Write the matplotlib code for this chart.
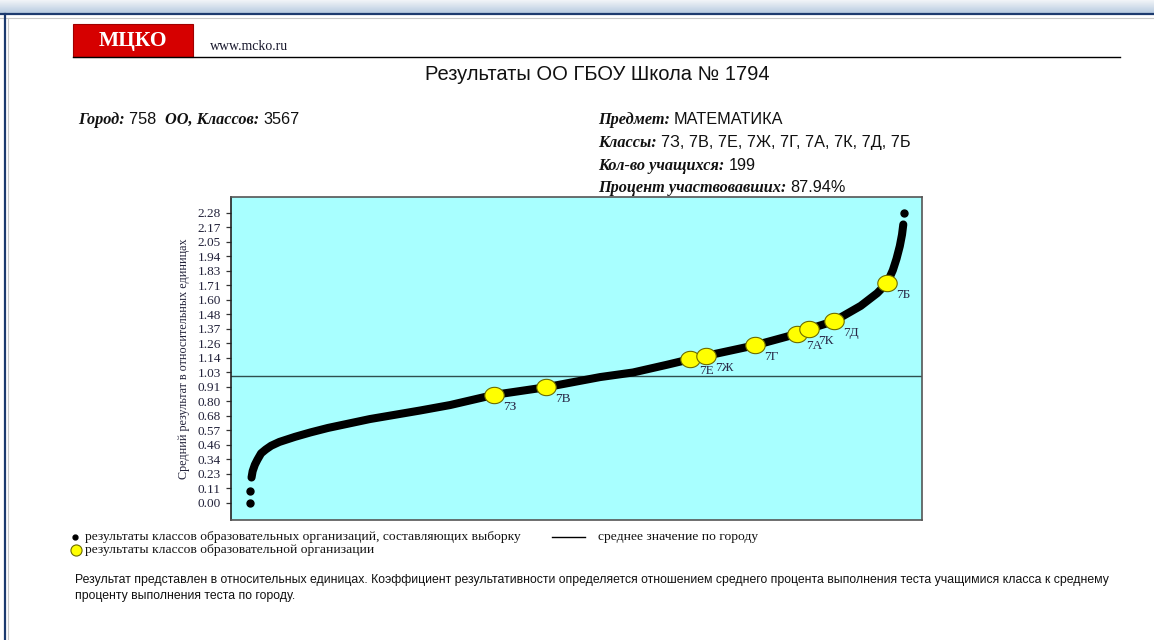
import numpy as np
import matplotlib
matplotlib.use("Agg")
import matplotlib.pyplot as plt
from matplotlib.patches import Rectangle
from matplotlib.lines import Line2D
from matplotlib.path import Path

# ---------------- data ----------------
city_ranks = [8, 14, 26, 40, 60, 85, 115, 160, 245, 330, 425, 654, 927, 1091, 1330,
              1614, 1909, 2088, 2274, 2399, 2487, 2754, 2983, 3052, 3185, 3330, 3420,
              3474, 3505, 3525, 3543, 3555, 3562]
city_values = [0.20, 0.25, 0.30, 0.34, 0.39, 0.42, 0.45, 0.48, 0.52, 0.555, 0.59, 0.66,
               0.727, 0.77, 0.85, 0.91, 0.99, 1.026, 1.087, 1.13, 1.157, 1.24, 1.33,
               1.37, 1.43, 1.55, 1.65, 1.73, 1.83, 1.92, 2.02, 2.11, 2.19]
outlier_ranks = [0, 2, 3566]
outlier_values = [0.0, 0.097, 2.283]

school_classes = ["7З", "7В", "7Е", "7Ж", "7Г", "7А", "7К", "7Д", "7Б"]
school_ranks = [1330, 1614, 2399, 2487, 2754, 2983, 3048, 3185, 3474]
school_values = [0.85, 0.91, 1.13, 1.157, 1.24, 1.33, 1.37, 1.43, 1.73]

city_mean = 1.0
ytick_labels = ["0.00", "0.11", "0.23", "0.34", "0.46", "0.57", "0.68", "0.80", "0.91",
                "1.03", "1.14", "1.26", "1.37", "1.48", "1.60", "1.71", "1.83", "1.94",
                "2.05", "2.17", "2.28"]
ytick_step = 0.11415

W, H = 1154, 640
SERIF = "Liberation Serif"
SANS = "Liberation Sans"

fig = plt.figure(figsize=(W / 100, H / 100), dpi=100)
fig.patch.set_facecolor("white")


def fx(px):
    return px / W


def fy(py):
    return 1 - py / H


# ellipse marker (slightly wider than tall)
_t = np.linspace(0, 2 * np.pi, 60)
ELLIPSE = Path(np.column_stack([np.cos(_t), 0.84 * np.sin(_t)]), closed=True)

# ---------------- page frame ----------------
grad = fig.add_axes([0, fy(13), 1, 13 / H])
grad.imshow(np.linspace(0, 1, 50).reshape(-1, 1), aspect="auto",
            cmap=matplotlib.colors.LinearSegmentedColormap.from_list("g", ["#f2f5f8", "#b8cbe0"]),
            extent=[0, 1, 0, 1])
grad.set_axis_off()
fig.add_artist(Line2D([0, 1], [fy(14), fy(14)], color="#1c3a6e", lw=1.6, transform=fig.transFigure))
fig.add_artist(Line2D([0, 1], [fy(18), fy(18)], color="#c8c8c8", lw=0.8, transform=fig.transFigure))
fig.add_artist(Line2D([fx(5), fx(5)], [0, fy(14)], color="#1c3a6e", lw=1.6, transform=fig.transFigure))
fig.add_artist(Line2D([fx(8), fx(8)], [0, fy(18)], color="#c8c8c8", lw=0.8, transform=fig.transFigure))

# ---------------- header ----------------
fig.add_artist(Rectangle((fx(73), fy(57)), fx(193) - fx(73), fy(24) - fy(57),
                         facecolor="#d60000", edgecolor="#a00000", lw=0.8, transform=fig.transFigure))
fig.text(fx(133), fy(41), "МЦКО", color="white", fontsize=15.5, fontweight="bold",
         family=SERIF, ha="center", va="center")
fig.text(fx(210), fy(47), "www.mcko.ru", fontsize=10, family=SERIF, ha="left", va="center", color="#1a1a2e")
fig.add_artist(Line2D([fx(73), fx(1120)], [fy(57), fy(57)], color="black", lw=1.0, transform=fig.transFigure))

fig.text(fx(597), fy(74), "Результаты ОО ГБОУ Школа № 1794", fontsize=14.5, family=SANS,
         ha="center", va="center", color="#111111")

renderer = fig.canvas.get_renderer()


def rich(x_px, y_px, parts, size=11.7):
    x = fx(x_px)
    for txt, style in parts:
        if style == "label":
            t = fig.text(x, fy(y_px), txt, fontsize=size, family=SERIF, fontweight="bold",
                         fontstyle="italic", ha="left", va="center", color="#111111")
        else:
            t = fig.text(x, fy(y_px), txt, fontsize=size, family=SANS,
                         ha="left", va="center", color="#111111")
        bb = t.get_window_extent(renderer)
        x += bb.width / W


rich(78, 120, [("Город: ", "label"), ("758  ", "v"), ("ОО, Классов: ", "label"), ("3567", "v")])
rich(598, 120, [("Предмет: ", "label"), ("МАТЕМАТИКА", "v")])
rich(598, 143, [("Классы: ", "label"), (", ".join(school_classes), "v")])
rich(598, 166, [("Кол-во учащихся: ", "label"), ("199", "v")])
rich(598, 188, [("Процент участвовавших: ", "label"), ("87.94%", "v")])

# ---------------- chart ----------------
ax = fig.add_axes([fx(231), fy(520), (922 - 231) / W, (520 - 197) / H])
ax.set_facecolor("#a8ffff")
ax.set_xlim(-104, 3664)
ax.set_ylim(-0.134, 2.406)

ax.axhline(city_mean, color="#2f4f4f", lw=1.0, zorder=2)
ax.plot(city_ranks, city_values, color="black", lw=5.8, solid_capstyle="round",
        solid_joinstyle="round", zorder=3)
ax.plot(outlier_ranks, outlier_values, "o", color="black", ms=5, zorder=3)
ax.plot(school_ranks, school_values, linestyle="none", marker=ELLIPSE, ms=14,
        markerfacecolor="#ffff00", markeredgecolor="#6b6b00", markeredgewidth=0.8, zorder=4)
for name, r, v in zip(school_classes, school_ranks, school_values):
    ax.annotate(name, (r, v), xytext=(6.5, -4.3), textcoords="offset points",
                ha="left", va="top", fontsize=9.5, family=SERIF, color="#2a2a48", zorder=5)

yt = np.arange(len(ytick_labels)) * ytick_step
ax.set_yticks(yt)
ax.set_yticklabels(ytick_labels, family=SERIF, fontsize=9.5, color="#22223a")
ax.set_xticks([])
ax.tick_params(axis="y", direction="out", length=3.8, width=0.9, color="#333333", pad=3.5)
for s in ax.spines.values():
    s.set_color("#555555")
    s.set_linewidth(1.2)
ax.spines["left"].set_color("#222222")
ax.set_ylabel("Средний результат в относительных единицах", family=SERIF, fontsize=8.7,
              color="#22223a", labelpad=5)

# ---------------- legend ----------------
LEG = 9.7
fig.add_artist(Line2D([fx(75)], [fy(537)], marker="o", ms=3.5, color="black", transform=fig.transFigure))
fig.text(fx(85), fy(537), "результаты классов образовательных организаций, составляющих выборку",
         fontsize=LEG, family=SERIF, ha="left", va="center", color="#111111")
fig.add_artist(Line2D([fx(552), fx(585)], [fy(537), fy(537)], color="black", lw=1.0, transform=fig.transFigure))
fig.text(fx(598), fy(537), "среднее значение по городу",
         fontsize=LEG, family=SERIF, ha="left", va="center", color="#111111")
fig.add_artist(Line2D([fx(76)], [fy(550)], marker="o", ms=8, markerfacecolor="#ffff00",
                      markeredgecolor="#6b6b00", markeredgewidth=0.8, transform=fig.transFigure))
fig.text(fx(85), fy(550), "результаты классов образовательной организации",
         fontsize=LEG, family=SERIF, ha="left", va="center", color="#111111")

fig.text(fx(75), fy(580), "Результат представлен в относительных единицах. Коэффициент результативности "
         "определяется отношением среднего процента выполнения теста учащимися класса к среднему",
         fontsize=8.85, family=SANS, ha="left", va="center", color="#111111")
fig.text(fx(75), fy(596), "проценту выполнения теста по городу.",
         fontsize=8.85, family=SANS, ha="left", va="center", color="#111111")

fig.savefig("out.png", dpi=100)
